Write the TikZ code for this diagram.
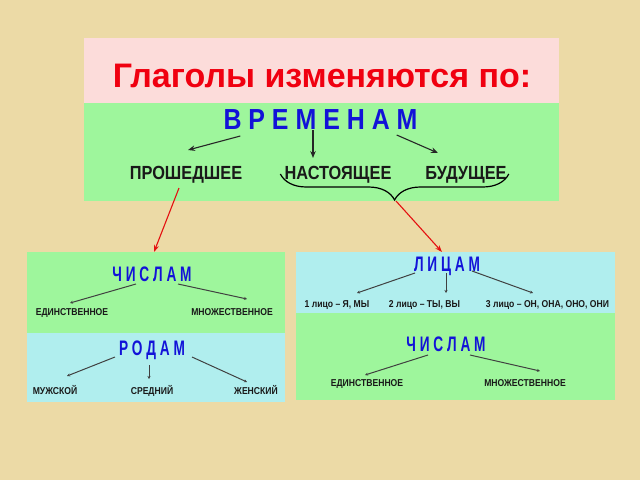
\documentclass[tikz,border=0pt]{standalone}
\usepackage{fontspec}
\setmainfont{Liberation Sans}
\newfontfamily\capsfont[FakeStretch=0.86]{Liberation Sans}
\newfontfamily\slimfont[FakeStretch=0.65]{Liberation Sans}
\newfontfamily\wordfont[FakeStretch=0.86]{Liberation Sans}
\usetikzlibrary{arrows.meta,decorations.pathreplacing}

\begin{document}
\begin{tikzpicture}[x=1pt,y=-1pt,
  panel/.style={inner sep=0,outer sep=0},
  head/.style={inner sep=0,anchor=base,text=headblue,font=\slimfont\bfseries\fontsize{21}{21}\selectfont},
  word/.style={inner sep=0,anchor=base,text=black!90,font=\wordfont\bfseries\fontsize{10}{10}\selectfont},
  tense/.style={inner sep=0,anchor=base,text=black!90,font=\wordfont\bfseries\fontsize{19}{19}\selectfont},
  link/.style={-{Stealth[length=3pt,width=3pt]},line width=1pt,draw=black!75},
  biglink/.style={-{Stealth[length=7pt,width=5.5pt]},line width=1.1pt,draw=black!85},
  redlink/.style={-{Stealth[length=7pt,width=5pt]},line width=1.1pt,draw=redarrow}]
\definecolor{bgtan}{HTML}{ECDAA6}
\definecolor{pinkbg}{HTML}{FCDCDA}
\definecolor{greenbg}{HTML}{9EF69C}
\definecolor{bluebg}{HTML}{B0EEEE}
\definecolor{headblue}{HTML}{1212D8}
\definecolor{titlered}{HTML}{F00010}
\definecolor{redarrow}{HTML}{E41010}
\fill[bgtan] (0,0) rectangle (640,480);

% panels
\node[panel,fill=pinkbg,minimum width=475pt,minimum height=65pt] (titlebox) at (321.5,70.5) {};
\node[panel,fill=greenbg,minimum width=475pt,minimum height=98pt] (timebox) at (321.5,152) {};
\node[panel,fill=greenbg,minimum width=258pt,minimum height=81pt] (lbox) at (156,292.5) {};
\node[panel,fill=bluebg,minimum width=258pt,minimum height=69pt] (gbox) at (156,367.5) {};
\node[panel,fill=bluebg,minimum width=319pt,minimum height=61pt] (rbox) at (455.5,282.5) {};
\node[panel,fill=greenbg,minimum width=319pt,minimum height=87pt] (nbox) at (455.5,356.5) {};

% top part
\node[inner sep=0,anchor=base,text=titlered,font=\bfseries\fontsize{34}{34}\selectfont] (title) at (322,87) {Глаголы изменяются по:};
\node[head,font=\capsfont\bfseries\fontsize{29}{29}\selectfont] (vrem) at (320.5,129) {В Р Е М Е Н А М};
\node[tense] (past) at (186,179) {ПРОШЕДШЕЕ};
\node[tense] (pres) at (338,179) {НАСТОЯЩЕЕ};
\node[tense] (fut) at (466,179) {БУДУЩЕЕ};
\draw[biglink] ([xshift=17pt,yshift=-7pt]vrem.base west) -- ([xshift=2pt,yshift=29pt]past.base);
\draw[biglink] ([xshift=-7.5pt,yshift=-1pt]vrem.base) -- ([xshift=-25pt,yshift=21pt]pres.base);
\draw[biglink] ([xshift=-21pt,yshift=-6pt]vrem.base east) -- ([xshift=-28pt,yshift=26pt]fut.base);
\draw[line width=1.2pt,decorate,decoration={brace,mirror,amplitude=26pt}]
  ([xshift=-4pt,yshift=5pt]pres.base west) -- ([xshift=2pt,yshift=5pt]fut.base east);
\coordinate (tip) at (396,201);

% red links
\draw[redlink] ([xshift=-7pt,yshift=-9pt]past.base) -- ([xshift=-2pt]lbox.north);
\draw[redlink] (tip) -- ([xshift=-13.5pt]rbox.north);

% left panel
\node[head] (lnum) at (152,281) {Ч И С Л А М};
\node[head] (rod) at (152,355) {Р О Д А М};
\foreach \nm/\x/\y/\txt in {ed1/72/315/ЕДИНСТВЕННОЕ,mn1/232/315/МНОЖЕСТВЕННОЕ,
  muzh/55/394/МУЖСКОЙ,sred/152/394/СРЕДНИЙ,zhen/256/394/ЖЕНСКИЙ}
  {  \node[word] (\nm) at (\x,\y) {\txt};}
\draw[link] ([xshift=-16pt,yshift=-3pt]lnum.base) -- ([xshift=-2pt,yshift=12pt]ed1.base);
\draw[link] ([xshift=26pt,yshift=-3pt]lnum.base) -- ([xshift=15pt,yshift=16pt]mn1.base);
\draw[link] ([xshift=-37pt,yshift=-2pt]rod.base) -- ([xshift=12pt,yshift=18pt]muzh.base);
\draw[link] ([xshift=-3pt,yshift=-10pt]rod.base) -- ([xshift=-3pt,yshift=15pt]sred.base);
\draw[link] ([xshift=40pt,yshift=-2pt]rod.base) -- ([xshift=-9pt,yshift=12pt]zhen.base);

% right panel
\node[head] (lic) at (447,271) {Л И Ц А М};
\node[head] (num2) at (446,351) {Ч И С Л А М};
\node[word] (l1) at (337,307) {1 лицо – Я, МЫ};
\node[word] (l2) at (424.5,307) {2 лицо – ТЫ, ВЫ};
\node[word] (l3) at (547.5,307) {3 лицо – ОН, ОНА, ОНО, ОНИ};
\node[word] (ed2) at (367,386) {ЕДИНСТВЕННОЕ};
\node[word] (mn2) at (525,386) {МНОЖЕСТВЕННОЕ};
\draw[link] ([xshift=-32pt,yshift=-2pt]lic.base) -- ([xshift=20pt,yshift=14pt]l1.base);
\draw[link] ([xshift=-1pt,yshift=-2pt]lic.base) -- ([xshift=21.5pt,yshift=14pt]l2.base);
\draw[link] ([xshift=25pt]lic.base) -- ([xshift=-14.5pt,yshift=14pt]l3.base);
\draw[link] ([xshift=-18pt,yshift=-4pt]num2.base) -- ([xshift=-2pt,yshift=11pt]ed2.base);
\draw[link] ([xshift=24pt,yshift=-4pt]num2.base) -- ([xshift=15pt,yshift=15pt]mn2.base);
\end{tikzpicture}
\end{document}
